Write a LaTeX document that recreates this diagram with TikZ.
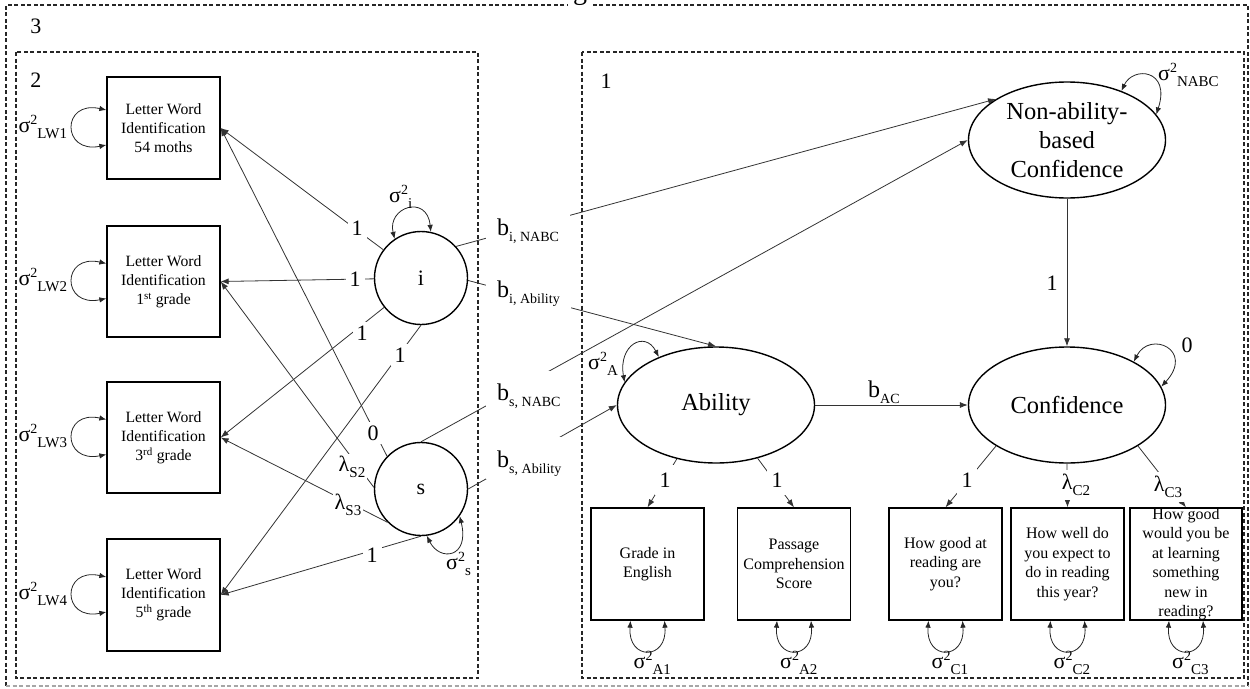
\documentclass[tikz,border=0pt]{standalone}
\usepackage{fontspec}
\setmainfont{Liberation Serif}
\usetikzlibrary{arrows.meta,shapes.geometric,calc}
\newcommand\fsz[2]{\fontsize{#1pt}{#2pt}\selectfont}
\newcommand\sgm[2]{{\fsz{22}{22}σ}\raisebox{8pt}{\fsz{14}{14}#1}\raisebox{-6pt}{\fsz{15}{15}#2}}
\newcommand\lmb[1]{{\fsz{22}{22}λ}\raisebox{-6pt}{\fsz{15}{15}#1}}
\newcommand\bcf[1]{{\fsz{24}{24}b}\raisebox{-6pt}{\fsz{14}{14}#1}}
\begin{document}
\begin{tikzpicture}[x=1pt,y=-1pt,
  panel/.style={dash pattern=on 4pt off 2.5pt, line width=1.1pt, draw=black!85},
  obs/.style={draw, rectangle, line width=1.3pt, minimum width=113pt, minimum height=111pt, inner sep=0pt, align=center, font=\fsz{15.7}{19}},
  robs/.style={obs, minimum height=112pt, font=\fsz{16}{19.5}},
  lat/.style={draw, ellipse, line width=1.4pt, minimum width=197pt, minimum height=116pt, inner sep=0pt, align=center, font=\fsz{24.5}{29}},
  fac/.style={draw, circle, line width=1.4pt, minimum size=93pt, inner sep=0pt, font=\fsz{22}{22}},
  conn/.style={draw=black!80, line width=0.8pt, -{Latex[length=8pt,width=6pt]}},
  varc/.style={draw=black!85, line width=0.8pt, {Latex[length=7pt,width=5.5pt]}-{Latex[length=7pt,width=5.5pt]}},
  lab/.style={fill=white, inner sep=4pt, font=\fsz{22}{22}},
  glab/.style={fill=white, inner sep=0pt, minimum width=20pt, minimum height=30pt, font=\fsz{22}{22}},
  numl/.style={inner sep=0pt, font=\fsz{22}{22}},
  sgl/.style={inner sep=0pt, anchor=base west},
  blab/.style={fill=white, inner ysep=1pt, inner xsep=11pt, anchor=base west},
]
\useasboundingbox (0,0) rectangle (1250,688);

% panels
\draw[panel] (1248,686) -- (1248,5) -- (6,5) -- (6,686);
\draw[panel, draw=black!35] (6,686) -- (1248,686);
\draw[panel] (16,52) rectangle (478,678);
\draw[panel] (582,52) rectangle (1244,678);
\node[fill=white, inner xsep=5pt, inner ysep=1pt, anchor=base, font=\fsz{28}{28}] (ttl) at (580,-1) {g};
\node[numl] (p3) at (36,26) {3};
\node[numl] (p2) at (36,80) {2};
\node[numl] (p1) at (606,81) {1};

% observed indicators, left
\node[obs, minimum height=102pt] (LW1) at (163.5,128) {Letter Word\\Identification\\54 moths};
\node[obs] (LW2) at (163.5,281.5) {Letter Word\\Identification\\1\textsuperscript{st} grade};
\node[obs] (LW3) at (163.5,437.5) {Letter Word\\Identification\\3\textsuperscript{rd} grade};
\node[obs, minimum height=112pt] (LW4) at (163.5,595) {Letter Word\\Identification\\5\textsuperscript{th} grade};

% growth factors
\node[fac] (i) at (421,278) {i};
\node[fac] (s) at (421,489) {s};

% latent variables
\node[lat] (NABC) at (1067,140) {Non-ability-\\based\\Confidence};
\node[lat] (Abil) at (716,405) {Ability};
\node[lat] (Conf) at (1067,405) {Confidence};

% observed indicators, right
\node[robs] (A1) at (647.5,564) {Grade in\\English};
\node[robs] (A2) at (794,564) {Passage\\Comprehension\\Score};
\node[robs] (C1) at (945.5,564) {How good at\\reading are\\you?};
\node[robs] (C2) at (1067.5,564) {How well do\\you expect to\\do in reading\\this year?};
\node[robs, minimum width=112pt, label={[font=\fsz{16}{19.5}, align=center]center:{How good\\would you be\\at learning\\something\\new in\\reading?}}] (C3) at (1186,564) {};

% loadings of growth factors
\draw[conn] (i) -- (LW1.east);
\draw[conn] (i) -- (LW2.east);
\draw[conn] (i) -- (LW3.east);
\draw[conn] (i.south) -- (LW4.east);
\draw[conn] (s.136) -- (LW1.east);
\draw[conn] (s.178) -- (LW2.east);
\draw[conn] (s.225) -- (LW3.east);
\draw[conn] (s.south) -- (LW4.east);

% regressions
\draw[conn] (i.42) -- (NABC.150);
\draw[conn] (i.-3) -- (Abil.north);
\draw[conn] (s.north) -- (NABC.west);
\draw[conn] (s.east) -- (Abil.west);
\draw[conn] (NABC) -- (Conf);
\draw[conn] (Abil) -- (Conf);

% measurement model, right
\draw[conn] (Abil.234) -- (A1.north);
\draw[conn] (Abil.-52) -- (A2.north);
\draw[conn] (Conf.210) -- (C1.north);
\draw[conn] (Conf.south) -- (C2.north);
\draw[conn] (Conf.-30) -- (C3.north);

% labels on the growth loadings
\node[lab] (l1) at (357,228) {1};
\node[lab] (l2) at (355,279) {1};
\node[lab] (l3) at (362,333) {1};
\node[lab] (l4) at (400,355) {1};
\node[lab] (l5) at (373,433) {0};
\node[lab, inner sep=2pt] (l6) at (352,467) {\lmb{S2}};
\node[lab, inner sep=2pt] (l7) at (348,505) {\lmb{S3}};
\node[lab] (l8) at (372,555) {1};

% regression labels
\node[blab, text height=22pt, text depth=3pt] (biN) at (486,235) {\bcf{i, NABC}};
\node[blab, text height=22pt, text depth=11pt] (biA) at (486,297) {\bcf{i, Ability}};
\node[blab, text height=28pt, text depth=7pt] (bsN) at (486,400) {\bcf{s, NABC}};
\node[blab, text height=29pt, text depth=11pt] (bsA) at (486,467) {\bcf{s, Ability}};
\node[inner sep=0pt, anchor=base west] (bAC) at (868,397) {\bcf{AC}};
\node[numl] (one) at (1052,283) {1};

% labels on the right loadings
\node[glab] (r1) at (665,480) {1};
\node[glab] (r2) at (777,480) {1};
\node[glab] (r3) at (967,480) {1};
\node[glab, minimum width=32pt] (r4) at (1076,485) {\lmb{C2}};
\node[glab, minimum width=32pt] (r5) at (1168,487) {\lmb{C3}};

% variances, left boxes
\foreach \n/\t in {LW1/LW1,LW2/LW2,LW3/LW3,LW4/LW4}{
  \draw[varc] ($(\n.west)+(0,-18)$) .. controls +(-45,-10) and +(-45,9) .. ($(\n.west)+(0,17)$);
  \node[sgl] at ($(\n.west)+(-88,4)$) {\sgm{2}{\t}};
}

% variances of growth factors
\draw[varc] (i.124) .. controls (387,207) and (427,194) .. (i.78);
\node[sgl] (si) at (389,202) {\sgm{2}{i}};
\draw[varc] (s.277) .. controls (440,562) and (470,558) .. (s.325);
\node[sgl] (ss) at (446,569) {\sgm{2}{s}};

% variances of latent variables
\draw[varc] (NABC.42) .. controls (1133,66) and (1171,69) .. (NABC.16);
\node[sgl] (sN) at (1158,80) {\sgm{2}{NABC}};
\draw[varc] (Abil.166) .. controls (618,345) and (645,330) .. (Abil.140);
\node[sgl] (sA) at (588,369) {\sgm{2}{A}};
\draw[varc] (Conf.33) .. controls (1150,330) and (1195,350) .. (Conf.11);
\node[numl] (z0) at (1187,345) {0};

% variances, right boxes
\foreach \n/\t in {A1/A1,A2/A2,C1/C1,C2/C2,C3/C3}{
  \draw[varc] ($(\n.south)+(-17,0)$) .. controls +(-3,40) and +(3,40) .. ($(\n.south)+(17,0)$);
  \node[sgl] at ($(\n.south)+(-14,48)$) {\sgm{2}{\t}};
}
\end{tikzpicture}
\end{document}
